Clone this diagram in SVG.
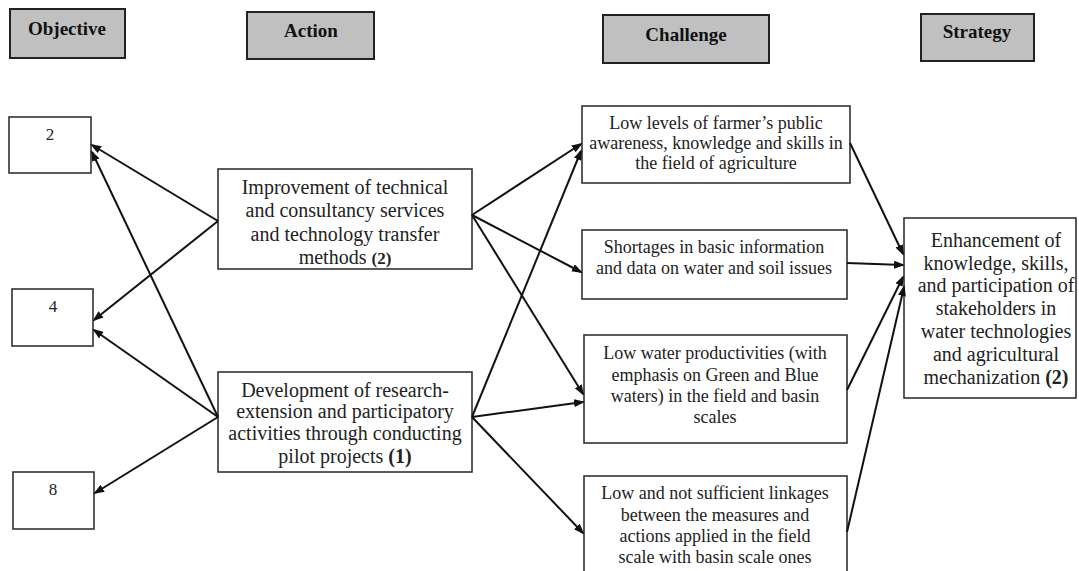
<svg xmlns="http://www.w3.org/2000/svg" width="1079" height="571" viewBox="0 0 1079 571">
  <defs>
    <marker id="arrow" markerWidth="11" markerHeight="8" refX="9" refY="4" orient="auto" markerUnits="userSpaceOnUse">
      <path d="M0,0 L11,4 L0,8 z" fill="#111"/>
    </marker>
    <style>
      .head rect { fill: #c0c0c0; stroke: #222; stroke-width: 2; }
      .head text { font-family: "Liberation Serif", "Times New Roman", serif; font-weight: bold; font-size: 19px; fill: #111; text-anchor: middle; }
      .box rect { fill: #fff; stroke: #333; stroke-width: 1.6; }
      .box text { font-family: "Liberation Serif", "Times New Roman", serif; fill: #222; text-anchor: middle; }
      .act text { font-size: 20px; }
      .chl text { font-size: 18px; }
      .str text { font-size: 20px; }
      .obj text { font-size: 17px; }
      .b { font-weight: bold; }
      #connectors line { stroke: #111; stroke-width: 2; marker-end: url(#arrow); }
    </style>
  </defs>
  <rect width="1079" height="571" fill="#fff"/>

  <!-- column headers -->
  <g id="hdr-objective" class="head">
    <rect x="10" y="9" width="115" height="49"/>
    <text x="67" y="35">Objective</text>
  </g>
  <g id="hdr-action" class="head">
    <rect x="247" y="12" width="127" height="47"/>
    <text x="311" y="37">Action</text>
  </g>
  <g id="hdr-challenge" class="head">
    <rect x="603" y="15" width="166" height="48"/>
    <text x="686" y="41">Challenge</text>
  </g>
  <g id="hdr-strategy" class="head">
    <rect x="921" y="14" width="113" height="47"/>
    <text x="977" y="38">Strategy</text>
  </g>

  <!-- objectives -->
  <g id="obj-2" class="box obj">
    <rect x="9" y="117" width="82" height="56"/>
    <text x="50" y="140">2</text>
  </g>
  <g id="obj-4" class="box obj">
    <rect x="12" y="289" width="81" height="57"/>
    <text x="53" y="312">4</text>
  </g>
  <g id="obj-8" class="box obj">
    <rect x="13" y="472" width="81" height="57"/>
    <text x="53" y="495">8</text>
  </g>

  <!-- actions -->
  <g id="act-improvement" class="box act">
    <rect x="218" y="169" width="254" height="100"/>
    <text x="345" y="194">Improvement of technical</text>
    <text x="345" y="217">and consultancy services</text>
    <text x="345" y="241">and technology transfer</text>
    <text x="345" y="264">methods <tspan class="b" font-size="17">(2)</tspan></text>
  </g>
  <g id="act-development" class="box act">
    <rect x="218" y="372" width="254" height="100"/>
    <text x="345" y="397">Development of research-</text>
    <text x="345" y="418">extension and participatory</text>
    <text x="345" y="440">activities through conducting</text>
    <text x="345" y="463">pilot projects <tspan class="b">(1)</tspan></text>
  </g>

  <!-- challenges -->
  <g id="chl-awareness" class="box chl">
    <rect x="582" y="106" width="268" height="77"/>
    <text x="716" y="129">Low levels of farmer’s public</text>
    <text x="716" y="149">awareness, knowledge and skills in</text>
    <text x="716" y="169">the field of agriculture</text>
  </g>
  <g id="chl-information" class="box chl">
    <rect x="582" y="230" width="265" height="69"/>
    <text x="714" y="253">Shortages in basic information</text>
    <text x="714" y="274">and data on water and soil issues</text>
  </g>
  <g id="chl-productivity" class="box chl">
    <rect x="584" y="335" width="263" height="108"/>
    <text x="715" y="359">Low water productivities (with</text>
    <text x="715" y="381">emphasis on Green and Blue</text>
    <text x="715" y="402">waters) in the field and basin</text>
    <text x="715" y="423">scales</text>
  </g>
  <g id="chl-linkages" class="box chl">
    <rect x="584" y="476" width="263" height="110"/>
    <text x="715" y="499">Low and not sufficient linkages</text>
    <text x="715" y="521">between the measures and</text>
    <text x="715" y="542">actions applied in the field</text>
    <text x="715" y="563">scale with basin scale ones</text>
  </g>

  <!-- strategy -->
  <g id="str-enhancement" class="box str">
    <rect x="904" y="218" width="172" height="180"/>
    <text x="996" y="247">Enhancement of</text>
    <text x="996" y="270">knowledge, skills,</text>
    <text x="996" y="292">and participation of</text>
    <text x="996" y="315">stakeholders in</text>
    <text x="996" y="338">water technologies</text>
    <text x="996" y="361">and agricultural</text>
    <text x="996" y="384">mechanization <tspan class="b">(2)</tspan></text>
  </g>

  <!-- connectors -->
  <g id="connectors">
    <!-- actions to objectives -->
    <line x1="218" y1="221" x2="92" y2="145"/>
    <line x1="218" y1="221" x2="94" y2="320"/>
    <line x1="218" y1="417" x2="92" y2="152"/>
    <line x1="218" y1="417" x2="94" y2="330"/>
    <line x1="218" y1="417" x2="95" y2="493"/>
    <!-- actions to challenges -->
    <line x1="472" y1="215" x2="581" y2="144"/>
    <line x1="472" y1="215" x2="581" y2="272"/>
    <line x1="472" y1="215" x2="583" y2="394"/>
    <line x1="472" y1="417" x2="581" y2="151"/>
    <line x1="472" y1="417" x2="583" y2="402"/>
    <line x1="472" y1="417" x2="583" y2="533"/>
    <!-- challenges to strategy -->
    <line x1="850" y1="143" x2="903" y2="254"/>
    <line x1="847" y1="263" x2="903" y2="265"/>
    <line x1="847" y1="390" x2="903" y2="277"/>
    <line x1="847" y1="532" x2="904" y2="287"/>
  </g>
</svg>
